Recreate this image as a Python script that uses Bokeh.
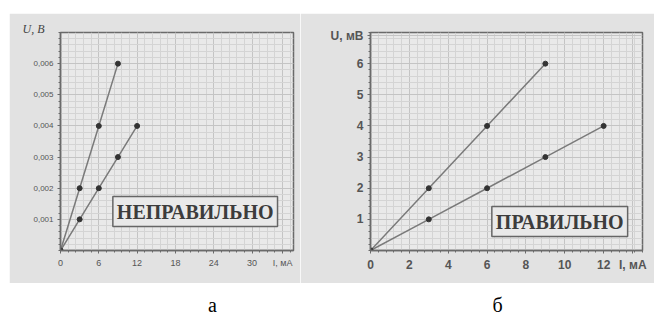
from bokeh.plotting import figure
from bokeh.layouts import row, column
from bokeh.models import Range1d, FixedTicker, Label, Title, Spacer
from bokeh.core.properties import value
from bokeh.embed import file_html
from bokeh.resources import INLINE

# ---- data ----
a_x_steep = [0, 3, 6, 9]
a_y_steep = [0, 0.002, 0.004, 0.006]
a_x_flat = [0, 3, 6, 9, 12]
a_y_flat = [0, 0.001, 0.002, 0.003, 0.004]

b_x_steep = [0, 3, 6, 9]
b_y_steep = [0, 2, 4, 6]
b_x_flat = [0, 3, 6, 9, 12]
b_y_flat = [0, 1, 2, 3, 4]

a_xticks = [0, 6, 12, 18, 24, 30]
a_yticks = [0.001, 0.002, 0.003, 0.004, 0.005, 0.006]
a_ytick_labels = ["0,001", "0,002", "0,003", "0,004", "0,005", "0,006"]
b_xticks = [0, 2, 4, 6, 8, 10, 12]
b_yticks = [1, 2, 3, 4, 5, 6]

a_xtitle_pos, a_xtitle = 34.8, "I, мА"
b_xtitle_pos, b_xtitle = 13.5, "I, мА"
b_ytitle_pos, b_ytitle = 6.9, "U, мВ"

BORDER = "#e2e2e2"
FRAME = "#e9e9e9"
DARK = "#6a6a6a"
TXT = "#555555"


def style(p):
    p.background_fill_color = FRAME
    p.border_fill_color = BORDER
    p.outline_line_color = DARK
    p.outline_line_width = 1.5
    for g in (p.xgrid[0], p.ygrid[0]):
        g.grid_line_color = "#c4c4c4"
        g.grid_line_width = 1
        g.minor_grid_line_color = "#d4d4d4"
        g.minor_grid_line_width = 1
    for ax in (p.xaxis[0], p.yaxis[0]):
        ax.axis_line_color = DARK
        ax.axis_line_width = 1.5
        ax.major_tick_line_color = DARK
        ax.minor_tick_line_color = DARK
        ax.major_tick_in = 0
        ax.major_tick_out = 3
        ax.minor_tick_in = 0
        ax.minor_tick_out = 2
        ax.major_label_text_color = TXT
        ax.major_label_standoff = 4


# ---- panel a ----
pa = figure(width=291, height=270, output_backend="svg", toolbar_location=None,
            x_range=Range1d(0, 36.5), y_range=Range1d(0, 0.007),
            min_border_left=51, min_border_right=7, min_border_top=19, min_border_bottom=33)
style(pa)
pa.xaxis.ticker = FixedTicker(ticks=a_xticks + [a_xtitle_pos],
                              minor_ticks=[i * 1.2 for i in range(31)])
pa.xaxis.major_label_overrides = {a_xtitle_pos: a_xtitle}
pa.yaxis.ticker = FixedTicker(ticks=a_yticks, minor_ticks=[i * 0.0002 for i in range(36)])
pa.yaxis.major_label_overrides = {t: l for t, l in zip(a_yticks, a_ytick_labels)}
for ax in (pa.xaxis[0], pa.yaxis[0]):
    ax.major_label_text_font_size = "8px"
    ax.major_label_text_font = "Liberation Sans"
pa.xaxis.major_label_text_font_size = "9px"

pa.line(a_x_steep, a_y_steep, line_color="#7a7a7a", line_width=1.5)
pa.line(a_x_flat, a_y_flat, line_color="#7a7a7a", line_width=1.5)
pa.scatter(a_x_steep, a_y_steep, size=5, fill_color="#333333", line_color="#333333")
pa.scatter(a_x_flat, a_y_flat, size=5, fill_color="#333333", line_color="#333333")

pa.add_layout(Title(text="U, В", align="left", offset=-38, standoff=-6,
                    text_font="Liberation Serif", text_font_style="italic",
                    text_font_size="12px", text_color="#444444"), "above")
pa.add_layout(Label(x=21.1, y=0.00125, text="НЕПРАВИЛЬНО", text_align="center",
                    text_baseline="middle", text_font="Liberation Serif",
                    text_font_style="bold", text_font_size="20px", text_color="#3c3c3c",
                    border_line_color="#666666", border_line_width=1.5,
                    background_fill_color=FRAME, padding=4))

# ---- panel b ----
pb = figure(width=354, height=270, output_backend="svg", toolbar_location=None,
            x_range=Range1d(0, 14), y_range=Range1d(0, 7),
            min_border_left=70, min_border_right=12, min_border_top=19, min_border_bottom=33)
style(pb)
pb.xaxis.ticker = FixedTicker(ticks=b_xticks + [b_xtitle_pos],
                              minor_ticks=[i * 0.4 for i in range(36)])
pb.xaxis.major_label_overrides = {b_xtitle_pos: b_xtitle}
pb.yaxis.ticker = FixedTicker(ticks=b_yticks + [b_ytitle_pos],
                              minor_ticks=[i * 0.2 for i in range(36)])
pb.yaxis.major_label_overrides = {b_ytitle_pos: b_ytitle}
for ax in (pb.xaxis[0], pb.yaxis[0]):
    ax.major_label_text_font = "Liberation Sans"
    ax.major_label_text_font_style = "bold"
    ax.major_label_text_font_size = "12px"

pb.line(b_x_steep, b_y_steep, line_color="#7a7a7a", line_width=1.5)
pb.line(b_x_flat, b_y_flat, line_color="#7a7a7a", line_width=1.5)
pb.scatter(b_x_steep, b_y_steep, size=5, fill_color="#333333", line_color="#333333")
pb.scatter(b_x_flat, b_y_flat, size=5, fill_color="#333333", line_color="#333333")

pb.add_layout(Label(x=9.74, y=0.93, text="ПРАВИЛЬНО", text_align="center",
                    text_baseline="middle", text_font="Liberation Serif",
                    text_font_style="bold", text_font_size="20px", text_color="#3c3c3c",
                    border_line_color="#666666", border_line_width=1.5,
                    background_fill_color=FRAME, padding=4))

# ---- captions ----
cap_text = ["а", "б"]
cap_x = [212, 497]
cap_y = [12, 12]
pc = figure(width=654, height=33, output_backend="svg", toolbar_location=None,
            x_range=Range1d(0, 654), y_range=Range1d(0, 33),
            min_border=0)
pc.axis.visible = False
pc.grid.visible = False
pc.outline_line_color = None
pc.background_fill_color = "white"
pc.border_fill_color = "white"
pc.text(x=cap_x, y=cap_y, text=cap_text, text_align="center", text_baseline="middle",
        text_font=value("Liberation Serif"), text_font_size="20px", text_color="black")

layout = column(Spacer(height=13),
                row(Spacer(width=9), pa, pb, spacing=0),
                pc, spacing=0)

open("out.html", "w").write(file_html(layout, INLINE))
